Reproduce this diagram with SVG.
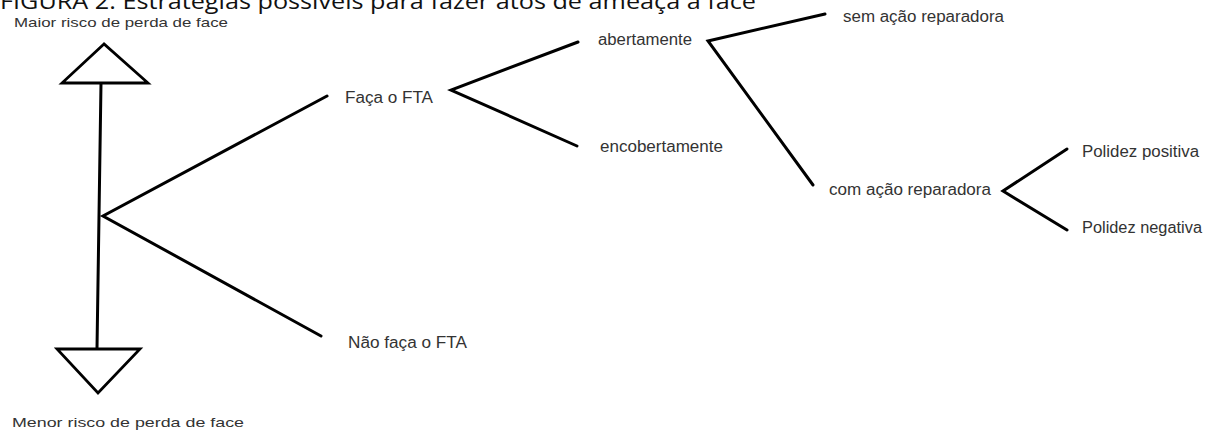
<svg xmlns="http://www.w3.org/2000/svg" width="1208" height="436" viewBox="0 0 1208 436">
<style>
.lbl{font-family:"Liberation Sans",Arial,sans-serif;font-size:16px;fill:#333333}
.sm{font-family:"Liberation Sans",Arial,sans-serif;font-size:13.5px;fill:#333333}
.cap{font-family:"Open Sans","Liberation Sans",sans-serif;font-size:22px;fill:#111111}
.ln{stroke:#000000;stroke-width:3;fill:none;stroke-linecap:round;stroke-linejoin:miter}
.tri{stroke:#000000;stroke-width:2.8;fill:#ffffff;stroke-linejoin:miter}
</style>
<rect width="1208" height="436" fill="#ffffff"/>
<g id="caption"><text class="cap" x="0" y="9" textLength="756" lengthAdjust="spacingAndGlyphs">FIGURA 2: Estratégias possíveis para fazer atos de ameaça à face</text></g>
<g id="connectors">
<line class="ln" x1="101" y1="83" x2="97" y2="349"/>
<polyline class="ln" points="327,96 103,216 321,336"/>
<polyline class="ln" points="578,42 451,90 577,146"/>
<polyline class="ln" points="825,14 708,41 813,185"/>
<polyline class="ln" points="1067,149 1003,191 1067,230"/>
</g>
<g id="maior"><polygon class="tri" points="104,44 62,83 148,83"/><text class="sm" x="14" y="27" textLength="214" lengthAdjust="spacingAndGlyphs">Maior risco de perda de face</text></g>
<g id="menor"><polygon class="tri" points="57,349 140,349 98,393"/><text class="sm" x="12" y="427" textLength="232" lengthAdjust="spacingAndGlyphs">Menor risco de perda de face</text></g>
<g id="faca"><text class="lbl" x="345" y="103" textLength="88" lengthAdjust="spacingAndGlyphs">Faça o FTA</text></g>
<g id="naofaca"><text class="lbl" x="348" y="348" textLength="119" lengthAdjust="spacingAndGlyphs">Não faça o FTA</text></g>
<g id="abertamente"><text class="lbl" x="598" y="45" textLength="94" lengthAdjust="spacingAndGlyphs">abertamente</text></g>
<g id="encobertamente"><text class="lbl" x="600" y="152" textLength="123" lengthAdjust="spacingAndGlyphs">encobertamente</text></g>
<g id="sem"><text class="lbl" x="843" y="22" textLength="161" lengthAdjust="spacingAndGlyphs">sem ação reparadora</text></g>
<g id="com"><text class="lbl" x="829" y="195" textLength="162" lengthAdjust="spacingAndGlyphs">com ação reparadora</text></g>
<g id="positiva"><text class="lbl" x="1082" y="157" textLength="117" lengthAdjust="spacingAndGlyphs">Polidez positiva</text></g>
<g id="negativa"><text class="lbl" x="1082" y="233" textLength="120" lengthAdjust="spacingAndGlyphs">Polidez negativa</text></g>
</svg>
